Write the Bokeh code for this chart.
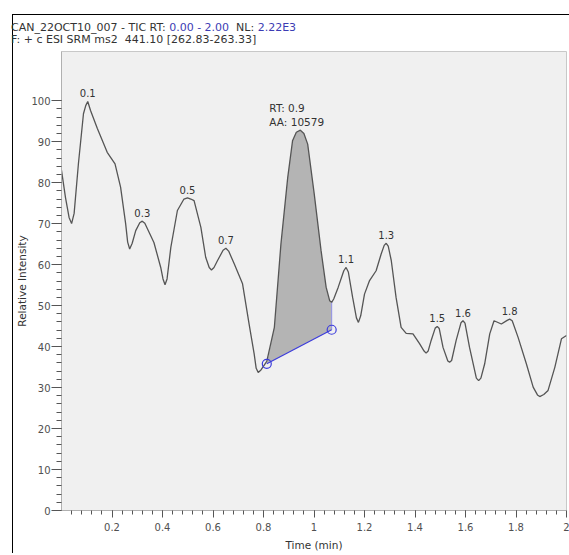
from bokeh.plotting import figure
from bokeh.models import Range1d, FixedTicker, ColumnDataSource, Div, Spacer
from bokeh.layouts import column, row
from bokeh.core.properties import value
from bokeh.embed import file_html
from bokeh.resources import INLINE

# ---- data ----
time = [0.0, 0.016, 0.03, 0.04, 0.05, 0.067, 0.087, 0.096, 0.104, 0.115, 0.142, 0.181,
        0.212, 0.234, 0.254, 0.262, 0.27, 0.28, 0.294, 0.31, 0.32, 0.33, 0.366, 0.393,
        0.402, 0.41, 0.418, 0.433, 0.459, 0.485, 0.499, 0.512, 0.525, 0.552, 0.571,
        0.585, 0.594, 0.604, 0.618, 0.64, 0.651, 0.662, 0.684, 0.717, 0.743, 0.763,
        0.771, 0.779, 0.79, 0.813, 0.843, 0.869, 0.896, 0.915, 0.93, 0.946, 0.96, 0.975,
        1.001, 1.028, 1.048, 1.062, 1.07, 1.078, 1.096, 1.118, 1.127, 1.136, 1.153,
        1.168, 1.176, 1.185, 1.2, 1.22, 1.246, 1.266, 1.278, 1.286, 1.294, 1.306, 1.325,
        1.345, 1.365, 1.392, 1.418, 1.436, 1.444, 1.452, 1.464, 1.48, 1.488, 1.496,
        1.511, 1.53, 1.537, 1.545, 1.563, 1.582, 1.59, 1.598, 1.616, 1.643, 1.652,
        1.661, 1.676, 1.696, 1.713, 1.742, 1.765, 1.775, 1.785, 1.808, 1.841, 1.868,
        1.885, 1.894, 1.91, 1.927, 1.954, 1.98, 2.0]
intensity = [83.0, 76.3, 71.5, 70.0, 72.5, 84.6, 96.8, 98.8, 99.8, 97.6, 93.2, 87.4,
             84.6, 78.9, 70.0, 65.5, 63.8, 65.2, 68.3, 70.2, 70.6, 70.1, 65.4, 59.3,
             56.5, 55.1, 56.5, 64.2, 73.2, 76.0, 76.3, 76.0, 75.6, 69.1, 61.8,
             59.3, 58.7, 59.3, 61.0, 63.5, 64.0, 63.3, 60.2, 55.3, 45.5, 38.2,
             34.7, 33.7, 34.3, 36.4, 44.7, 65.0, 81.3, 90.2, 92.3, 92.8, 92.0, 89.4,
             77.2, 63.4, 54.5, 51.2, 50.8, 51.6, 54.5, 58.5, 59.3, 58.2, 52.0,
             47.0, 45.9, 47.5, 52.8, 56.1, 58.5, 62.6, 64.7, 65.2, 64.5, 61.0, 52.0,
             44.7, 43.2, 43.1, 40.7, 38.9, 38.4, 38.9, 41.5, 44.5, 44.9, 44.4,
             39.8, 36.5, 36.2, 36.6, 41.5, 45.8, 46.3, 45.7, 39.8, 32.3, 31.7,
             32.3, 35.8, 43.1, 46.3, 45.5, 46.4, 46.7, 46.3, 42.3, 35.8, 30.1,
             28.2, 27.8, 28.3, 29.3, 35.0, 41.9, 42.7]

peak_time = [0.104, 0.32, 0.499, 0.651, 1.127, 1.286, 1.488, 1.59, 1.775]
peak_value = [99.8, 70.6, 76.3, 64.0, 59.3, 65.2, 44.9, 46.3, 46.7]
peak_text = ["0.1", "0.3", "0.5", "0.7", "1.1", "1.3", "1.5", "1.6", "1.8"]

main_peak_time = [0.946]
main_peak_value = [92.8]
main_peak_rt = ["RT: 0.9"]
main_peak_area = ["AA: 10579"]

base_time = [0.813, 1.07]
base_value = [35.8, 44.1]

x_ticks = [0.2, 0.4, 0.6, 0.8, 1.0, 1.2, 1.4, 1.6, 1.8, 2.0]
x_minor = [round(i * 0.04, 2) for i in range(1, 50)]
y_ticks = [0, 10, 20, 30, 40, 50, 60, 70, 80, 90, 100]
y_minor = list(range(0, 101, 2))

header_line1 = [("CAN_22OCT10_007 - TIC RT: ", "#333333"), ("0.00 - 2.00", "#3c3cb4"),
                ("&nbsp;&nbsp;NL: ", "#333333"), ("2.22E3", "#3c3cb4")]
header_line2 = "F: + c ESI SRM ms2&nbsp;&nbsp;441.10 [262.83-263.33]"

FONT = "DejaVu Sans"

p = figure(width=556, height=506, output_backend="svg", toolbar_location=None,
           x_range=Range1d(0, 2.0), y_range=Range1d(0, 112),
           min_border_left=46, min_border_right=3, min_border_top=4,
           min_border_bottom=43)

p.background_fill_color = "#f0f0f0"
p.border_fill_color = "white"
p.outline_line_color = "#c8c8c8"
p.grid.visible = False

# area between curve and baseline
fill_t = [base_time[0]] + [t for t in time if base_time[0] < t <= base_time[1]] + [base_time[1]]
fill_v = [base_value[0]] + [v for t, v in zip(time, intensity) if base_time[0] < t <= base_time[1]] + [base_value[1]]
p.patch(fill_t, fill_v, fill_color="#b4b4b4", line_color=None)

curve_end = [v for t, v in zip(time, intensity) if t == base_time[1]][0]
p.line([base_time[1], base_time[1]], [base_value[1], curve_end], line_color="#9090e8", line_width=1)

p.line(time, intensity, line_color="#555555", line_width=1.3)

p.line(base_time, base_value, line_color="#3c3cdc", line_width=1.2)
p.scatter(base_time, base_value, size=9, marker="circle", fill_color=None,
          line_color="#3c3cdc", line_width=1.2)

src = ColumnDataSource(dict(x=peak_time, y=peak_value, t=peak_text))
p.text("x", "y", text="t", source=src, text_align="center", text_baseline="middle",
       y_offset=-8, text_font=value(FONT), text_font_size="10px", text_color="#333333")

p.text(main_peak_time, main_peak_value, text=main_peak_area, text_align="left",
       text_baseline="middle", x_offset=-31, y_offset=-8, text_font=value(FONT),
       text_font_size="10.5px", text_color="#333333")
p.text(main_peak_time, main_peak_value, text=main_peak_rt, text_align="left",
       text_baseline="middle", x_offset=-31, y_offset=-22, text_font=value(FONT),
       text_font_size="10.5px", text_color="#333333")

# axes
for ax in (p.xaxis[0], p.yaxis[0]):
    ax.axis_line_color = "#b0b0b0"
    ax.major_tick_line_color = "#555555"
    ax.minor_tick_line_color = "#555555"
    ax.major_tick_in = 0
    ax.minor_tick_in = 0
    ax.major_label_text_font = FONT
    ax.major_label_text_font_size = "10px"
    ax.major_label_text_color = "#505050"
    ax.axis_label_text_font = FONT
    ax.axis_label_text_font_size = "10.5px"
    ax.axis_label_text_font_style = "normal"
    ax.axis_label_text_color = "#333333"

p.xaxis.ticker = FixedTicker(ticks=x_ticks, minor_ticks=x_minor)
p.xaxis.major_tick_out = 7
p.xaxis.minor_tick_out = 4
p.xaxis.major_label_standoff = 5
p.xaxis.axis_label = "Time (min)"
p.xaxis.axis_label_standoff = 5

p.yaxis.ticker = FixedTicker(ticks=y_ticks, minor_ticks=y_minor)
p.yaxis.major_tick_out = 10
p.yaxis.minor_tick_out = 5
p.yaxis.major_label_standoff = 1
p.yaxis.axis_label = "Relative Intensity"
p.yaxis.axis_label_standoff = 0

line1 = "".join(f'<span style="color:{c}">{t}</span>' for t, c in header_line1)
hdr = Div(text=(f'<div style="font-family:\'{FONT}\';font-size:11px;line-height:12px;'
                f'color:#333333;white-space:nowrap;padding-top:7px;margin-left:-2px">'
                f'{line1}<br>{header_line2}</div>'),
          width=556, height=32, margin=(0, 0, 0, 0))

inner = column(hdr, p, spacing=0)
inner.styles = {"border-left": "1px solid #000", "border-top": "1px solid #000"}
layout = column(Spacer(height=14), row(Spacer(width=12), inner, spacing=0), spacing=0)

open("out.html", "w").write(file_html(layout, INLINE))
